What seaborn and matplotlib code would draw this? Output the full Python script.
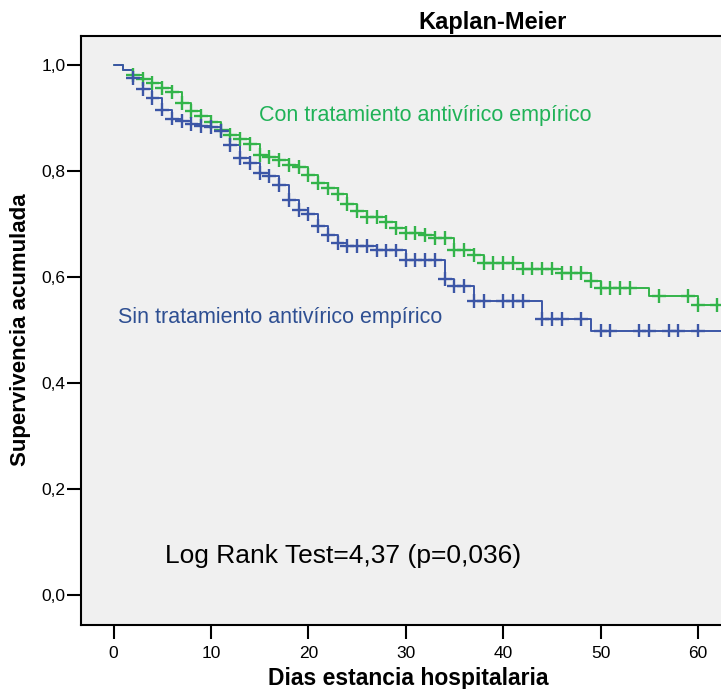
import numpy as np
import pandas as pd
import matplotlib
matplotlib.use("Agg")
import matplotlib.pyplot as plt
import seaborn as sns

# Kaplan-Meier step estimates (day, cumulative survival after the step)
con_times = [0, 1, 2, 3, 4, 5, 6, 7, 8, 9, 10, 11, 12, 13, 14, 15, 16, 17, 18, 19,
             20, 21, 22, 23, 24, 25, 26, 28, 29, 30, 32, 33, 35, 37, 38, 42, 46, 49,
             50, 55, 60, 63]
con_surv = [1.000, 0.991, 0.981, 0.974, 0.966, 0.957, 0.949, 0.929, 0.913, 0.904,
            0.893, 0.877, 0.868, 0.860, 0.851, 0.830, 0.826, 0.820, 0.811, 0.807,
            0.792, 0.777, 0.767, 0.756, 0.738, 0.725, 0.713, 0.704, 0.692, 0.683,
            0.679, 0.674, 0.651, 0.642, 0.627, 0.616, 0.607, 0.593, 0.580, 0.564,
            0.547, 0.547]
con_censored = [2, 3, 4, 5, 6, 7, 8, 9, 10, 11, 12, 13, 14, 15, 16, 17, 18, 19, 20,
                21, 22, 23, 24, 25, 26, 27, 28, 29, 30, 31, 32, 33, 34, 35, 36, 37,
                38, 39, 40, 41, 42, 43, 44, 45, 46, 47, 48, 49, 50, 51, 52, 53, 56,
                59, 60, 62]

sin_times = [0, 1, 2, 3, 4, 5, 6, 7, 8, 9, 10, 11, 12, 13, 14, 15, 16, 17, 18, 19,
             20, 21, 22, 23, 24, 27, 30, 34, 35, 37, 44, 49, 63]
sin_surv = [1.000, 0.991, 0.976, 0.955, 0.937, 0.916, 0.899, 0.895, 0.888, 0.885,
            0.883, 0.875, 0.849, 0.824, 0.815, 0.797, 0.791, 0.774, 0.745, 0.726,
            0.719, 0.696, 0.679, 0.664, 0.659, 0.650, 0.632, 0.596, 0.583, 0.555,
            0.520, 0.499, 0.499]
sin_censored = [2, 3, 4, 5, 6, 7, 8, 9, 10, 11, 12, 13, 14, 15, 16, 17, 18, 19, 20,
                21, 22, 23, 24, 25, 26, 27, 28, 29, 30, 31, 32, 33, 34, 35, 36, 37,
                38, 40, 41, 42, 44, 45, 46, 48, 50, 51, 54, 55, 57, 58, 60]

x_ticks = [0, 10, 20, 30, 40, 50, 60]
y_ticks = [0.0, 0.2, 0.4, 0.6, 0.8, 1.0]

green = "#33b44a"
blue = "#3c56a6"

sns.set_style("white")
plt.rcParams["font.family"] = ["Liberation Sans", "DejaVu Sans"]
plt.rcParams["font.stretch"] = "normal"


def step_value(times, surv, t):
    idx = np.searchsorted(np.asarray(times), t, side="right") - 1
    return np.asarray(surv)[idx]


curves = pd.DataFrame({
    "dias": con_times + sin_times,
    "surv": con_surv + sin_surv,
    "grupo": ["con"] * len(con_times) + ["sin"] * len(sin_times),
})
marks = pd.DataFrame({
    "dias": con_censored + sin_censored,
    "surv": list(step_value(con_times, con_surv, con_censored))
            + list(step_value(sin_times, sin_surv, sin_censored)),
    "grupo": ["con"] * len(con_censored) + ["sin"] * len(sin_censored),
})
palette = {"con": green, "sin": blue}

fig = plt.figure(figsize=(7.21, 6.89), dpi=100)
ax = fig.add_axes([81 / 721, 64 / 689, 640 / 721, 589 / 689])
ax.set_facecolor("#f0f0f0")

sns.lineplot(data=curves, x="dias", y="surv", hue="grupo", palette=palette,
             estimator=None, sort=False, drawstyle="steps-post", linewidth=1.4,
             legend=False, ax=ax)
sns.scatterplot(data=marks, x="dias", y="surv", hue="grupo", palette=palette,
                marker="+", s=100, linewidth=1.7, legend=False, ax=ax, zorder=3)

ax.set_xlim(-3.34, 62.37)
ax.set_ylim(-0.0566, 1.0547)
ax.set_xticks(x_ticks)
ax.set_xticklabels([str(v) for v in x_ticks])
ax.set_yticks(y_ticks)
ax.set_yticklabels([f"{v:.1f}".replace(".", ",") for v in y_ticks])
ax.tick_params(axis="both", direction="out", length=10, width=1.5, color="black",
               labelsize=12.5, pad=1, left=True, bottom=True, labelcolor="black")
ax.tick_params(axis="x", pad=5)
for side in ("left", "top", "bottom"):
    ax.spines[side].set_visible(True)
    ax.spines[side].set_color("black")
    ax.spines[side].set_linewidth(1.5)
ax.spines["right"].set_visible(False)
ax.set_xlabel("")
ax.set_ylabel("")

ax.text(14.94, 0.904, "Con tratamiento antivírico empírico", color="#1fb257",
        fontsize=15.5, va="center", ha="left")
ax.text(0.46, 0.523, "Sin tratamiento antivírico empírico", color="#2e4f92",
        fontsize=15.5, va="center", ha="left")
ax.text(5.29, 0.074, "Log Rank Test=4,37 (p=0,036)", color="black",
        fontsize=19, va="center", ha="left")

fig.text(493 / 721, 1 - 22 / 689, "Kaplan-Meier", fontsize=17, fontweight="bold",
         ha="center", va="center", color="black")
fig.text(408 / 721, 1 - 679 / 689, "Dias estancia hospitalaria", fontsize=16.5,
         fontweight="bold", ha="center", va="center", color="black")
fig.text(21 / 721, 1 - 330 / 689, "Supervivencia acumulada", fontsize=16,
         fontweight="bold", ha="center", va="center", rotation=90, color="black")

fig.savefig("out.png", dpi=100, facecolor="white")
